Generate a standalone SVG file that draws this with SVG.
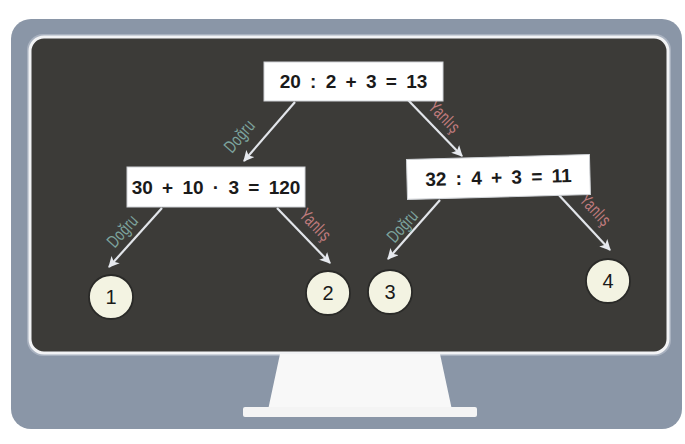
<svg xmlns="http://www.w3.org/2000/svg" width="685" height="444" viewBox="0 0 685 444">
<defs>
<marker id="ah" viewBox="0 0 10 10" refX="9" refY="5" markerWidth="5" markerHeight="5" orient="auto" markerUnits="strokeWidth">
<path d="M0,0 L10,5 L0,10 L2.5,5 Z" fill="#e6e9ee"/>
</marker>
<style>
.box{fill:#ffffff;stroke:#cfd2d6;stroke-width:1}
.eq{font-family:"Liberation Sans",Arial,sans-serif;font-size:19px;font-weight:bold;fill:#1a1a1a;text-anchor:middle;word-spacing:4px}
.leaf{fill:#f3f3e2;stroke:#2a2a28;stroke-width:1.8}
.num{font-family:"Liberation Sans",Arial,sans-serif;font-size:20px;fill:#1a1a1a;text-anchor:middle}
.conn{stroke:#e2e5ea;stroke-width:2.2;fill:none;marker-end:url(#ah)}
.lbl{font-family:"Liberation Sans",Arial,sans-serif;font-size:15px;text-anchor:middle;letter-spacing:0.5px}
.d{fill:#7da49e}
.y{fill:#c07c7e}
</style>
</defs>
<rect width="685" height="444" fill="#ffffff"/>
<g id="monitor">
<rect x="11" y="19" width="671" height="410" rx="20" fill="#8a96a7"/>
<rect x="27" y="34" width="644" height="322" rx="16" fill="#a9b2c0"/>
<rect x="30" y="37" width="638" height="316" rx="14" fill="#3c3b38" stroke="#f2f3f5" stroke-width="3"/>
<path d="M280,354 L440,354 L452,410 L268,410 Z" fill="#f8f8f8"/>
<rect x="243" y="407" width="234" height="10" rx="2" fill="#f4f4f4"/>
</g>
<g id="connectors">
<line class="conn" x1="295" y1="102" x2="244" y2="161"/>
<line class="conn" x1="408" y1="100" x2="462" y2="156"/>
<line class="conn" x1="162" y1="208" x2="109" y2="267"/>
<line class="conn" x1="277" y1="208" x2="330" y2="263"/>
<line class="conn" x1="440" y1="200" x2="388" y2="259"/>
<line class="conn" x1="557" y1="193" x2="610" y2="250"/>
<text class="lbl d" transform="translate(244,140) rotate(-49) scale(0.85,1.2)">Doğru</text>
<text class="lbl y" transform="translate(440,121) rotate(46) scale(0.85,1.2)">Yanlış</text>
<text class="lbl d" transform="translate(127,235) rotate(-48) scale(0.85,1.2)">Doğru</text>
<text class="lbl y" transform="translate(311,229) rotate(46) scale(0.85,1.2)">Yanlış</text>
<text class="lbl d" transform="translate(407,230) rotate(-48) scale(0.85,1.2)">Doğru</text>
<text class="lbl y" transform="translate(591,214) rotate(47) scale(0.85,1.2)">Yanlış</text>
</g>
<g id="n_root">
<rect class="box" x="264" y="62" width="179" height="39"/>
<text class="eq" x="353.5" y="88" xml:space="preserve">20 : 2 + 3 = 13</text>
</g>
<g id="n_left">
<rect class="box" x="127" y="167" width="178" height="40"/>
<text class="eq" x="216" y="194" xml:space="preserve">30 + 10 · 3 = 120</text>
</g>
<g id="n_right" transform="rotate(-1.5 498 178)">
<rect class="box" x="407" y="157" width="183" height="40"/>
<text class="eq" x="498.5" y="184" xml:space="preserve">32 : 4 + 3 = 11</text>
</g>
<g id="n1">
<circle class="leaf" cx="111" cy="297" r="22"/>
<text class="num" x="111" y="304">1</text>
</g>
<g id="n2">
<circle class="leaf" cx="328" cy="293" r="22"/>
<text class="num" x="328" y="300">2</text>
</g>
<g id="n3">
<circle class="leaf" cx="390" cy="292" r="22"/>
<text class="num" x="390" y="299">3</text>
</g>
<g id="n4">
<circle class="leaf" cx="608" cy="281" r="22"/>
<text class="num" x="608" y="288">4</text>
</g>
</svg>
